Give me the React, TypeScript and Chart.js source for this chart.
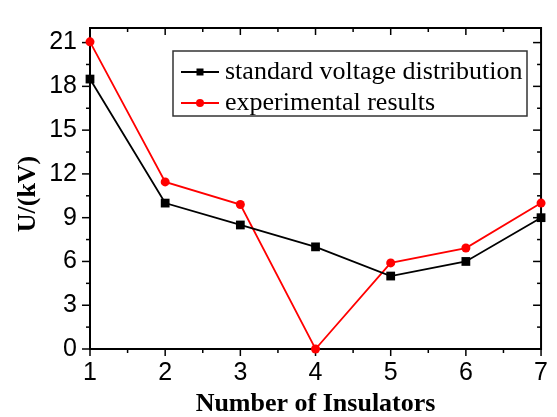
import React, { useEffect, useRef } from 'react';
import { Chart, registerables } from 'chart.js';

Chart.register(...registerables);

const insulators = [1, 2, 3, 4, 5, 6, 7];
const standardVoltage = [18.5, 10, 8.5, 7, 5, 6, 9];
const experimentalResults = [21.05, 11.45, 9.9, 0, 5.9, 6.92, 10];
const seriesLabels = ['standard voltage distribution', 'experimental results'];
const xTitle = 'Number of Insulators';
const yTitle = 'U/(kV)';

const W = 557;
const H = 417;

const framePlugin = {
  id: 'frame',
  beforeDatasetsDraw(chart: any) {
    const { ctx, chartArea, scales } = chart;
    const { left, right, top, bottom } = chartArea;
    const x = scales.x;
    const y = scales.y;
    ctx.save();
    ctx.strokeStyle = '#000';
    ctx.lineWidth = 2;
    ctx.strokeRect(left, top, right - left, bottom - top);
    ctx.lineWidth = 1.5;
    const line = (x1: number, y1: number, x2: number, y2: number) => {
      ctx.beginPath();
      ctx.moveTo(x1, y1);
      ctx.lineTo(x2, y2);
      ctx.stroke();
    };
    const xv = x.ticks.map((t: any) => t.value);
    xv.forEach((v: number, i: number) => {
      const p = x.getPixelForValue(v);
      line(p, bottom, p, bottom + 7);
      line(p, top, p, top + 7);
      if (i < xv.length - 1) {
        const m = x.getPixelForValue((v + xv[i + 1]) / 2);
        line(m, bottom, m, bottom + 4);
        line(m, top, m, top + 4);
      }
    });
    const yv = y.ticks.map((t: any) => t.value);
    yv.forEach((v: number, i: number) => {
      const p = y.getPixelForValue(v);
      line(left, p, left - 8, p);
      line(right, p, right - 8, p);
      const next = i < yv.length - 1 ? yv[i + 1] : v + (v - yv[i - 1]);
      const mv = (v + next) / 2;
      if (mv <= y.max) {
        const m = y.getPixelForValue(mv);
        line(left, m, left - 4, m);
        line(right, m, right - 4, m);
      }
    });
    ctx.restore();
  },
  afterDraw(chart: any) {
    const { ctx, chartArea } = chart;
    const { left, right } = chartArea;
    ctx.save();
    ctx.fillStyle = '#000';
    ctx.font = 'bold 26px "Liberation Serif"';
    ctx.textAlign = 'center';
    ctx.textBaseline = 'alphabetic';
    ctx.fillText(xTitle, (left + right) / 2, 411);
    ctx.translate(28.5, 194);
    ctx.rotate(-Math.PI / 2);
    ctx.textBaseline = 'middle';
    ctx.fillText(yTitle, 0, 0);
    ctx.restore();

    // legend
    const bx = 173, by = 51, bw = 354, bh = 65;
    ctx.save();
    ctx.fillStyle = '#fff';
    ctx.fillRect(bx, by, bw, bh);
    ctx.strokeStyle = '#333';
    ctx.lineWidth = 1.5;
    ctx.strokeRect(bx, by, bw, bh);
    const rows = [72, 103];
    chart.data.datasets.forEach((ds: any, i: number) => {
      const ry = rows[i];
      ctx.strokeStyle = ds.borderColor;
      ctx.lineWidth = ds.borderWidth;
      ctx.beginPath();
      ctx.moveTo(181, ry);
      ctx.lineTo(219, ry);
      ctx.stroke();
      ctx.fillStyle = ds.pointBackgroundColor;
      if (ds.pointStyle === 'rect') {
        ctx.fillRect(200 - 3.5, ry - 3.5, 7, 7);
      } else {
        ctx.beginPath();
        ctx.arc(200, ry, 4, 0, Math.PI * 2);
        ctx.fill();
      }
      ctx.fillStyle = '#000';
      ctx.font = '26px "Liberation Serif"';
      ctx.textAlign = 'left';
      ctx.textBaseline = 'middle';
      ctx.fillText(ds.label, 225, ry);
    });
    ctx.restore();
  },
};

export default function App() {
  const ref = useRef<HTMLCanvasElement | null>(null);
  useEffect(() => {
    document.body.style.margin = '0';
    const canvas = ref.current!;
    const tickFont = { family: '"Liberation Sans", Arial, sans-serif', size: 25 };
    const chart = new Chart(canvas, {
      type: 'line',
      data: {
        datasets: [
          {
            label: seriesLabels[0],
            data: insulators.map((n, i) => ({ x: n, y: standardVoltage[i] })),
            borderColor: '#000',
            backgroundColor: '#000',
            pointBackgroundColor: '#000',
            pointBorderColor: '#000',
            pointStyle: 'rect',
            pointRadius: 6.2,
            pointBorderWidth: 0,
            borderWidth: 1.8,
            clip: false,
          },
          {
            label: seriesLabels[1],
            data: insulators.map((n, i) => ({ x: n, y: experimentalResults[i] })),
            borderColor: '#ff0000',
            backgroundColor: '#ff0000',
            pointBackgroundColor: '#ff0000',
            pointBorderColor: '#ff0000',
            pointStyle: 'circle',
            pointRadius: 4.5,
            pointBorderWidth: 0,
            borderWidth: 1.8,
            clip: false,
          },
        ] as any,
      },
      options: {
        animation: false,
        responsive: false,
        devicePixelRatio: 1,
        layout: { padding: { top: 9, right: 9, left: 0, bottom: 0 } },
        plugins: { legend: { display: false }, tooltip: { enabled: false } },
        scales: {
          x: {
            type: 'linear',
            min: 1,
            max: 7,
            grid: { display: false, drawTicks: false },
            border: { display: false },
            ticks: { stepSize: 1, color: '#000', font: tickFont, padding: 9, maxRotation: 0 },
            afterFit: (s: any) => { s.height = 68; },
          },
          y: {
            type: 'linear',
            min: 0,
            max: 22,
            grid: { display: false, drawTicks: false },
            border: { display: false },
            ticks: { stepSize: 3, includeBounds: false, color: '#000', font: tickFont, padding: 13 },
            afterFit: (s: any) => { s.width = 90; },
          },
        },
      },
      plugins: [framePlugin],
    });
    return () => chart.destroy();
  }, []);
  return (
    <div style={{ position: 'absolute', left: 0, top: 0, width: W, height: H, background: '#fff' }}>
      <canvas ref={ref} width={W} height={H} style={{ width: W, height: H, display: 'block' }} />
    </div>
  );
}
